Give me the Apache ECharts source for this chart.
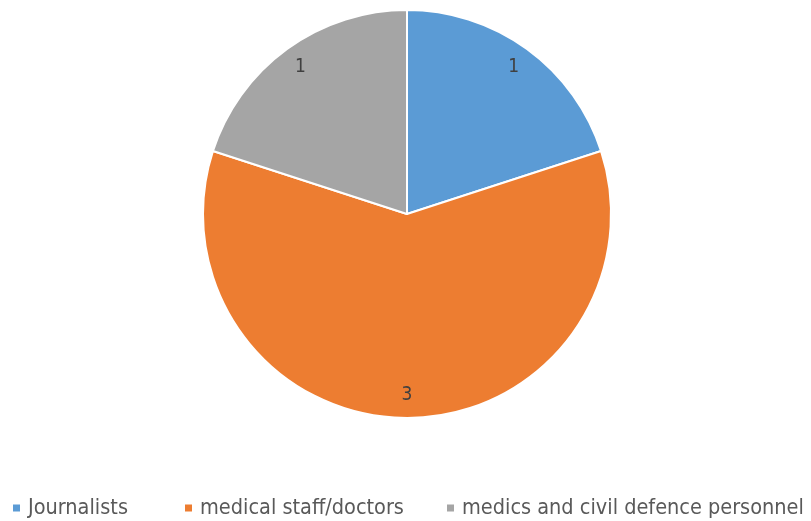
<!DOCTYPE html>
<html><head><meta charset="utf-8">
<script src="https://cdn.jsdelivr.net/npm/echarts@6/dist/echarts.min.js"></script>
<style>html,body{margin:0;padding:0;background:#fff}#c{width:811px;height:521px}</style>
</head><body><div id="c"></div>
<script>
const categories = ['Journalists', 'medical staff/doctors', 'medics and civil defence personnel'];
const values = [1, 3, 1];
const colors = ['#5B9BD5', '#ED7D31', '#A5A5A5'];

const data = categories.map((name, i) => ({ name: name, value: values[i], itemStyle: { color: colors[i] } }));
const chart = echarts.init(document.getElementById('c'), null, { renderer: 'canvas' });
const font = "'Liberation Sans Narrow', 'DejaVu Sans Condensed', 'Liberation Sans', sans-serif";
const legendLefts = [6, 178, 440];
chart.setOption({
  animation: false,
  color: colors,
  legend: categories.map((name, i) => ({
    top: 492,
    left: legendLefts[i],
    icon: 'rect',
    itemWidth: 9,
    itemHeight: 9,
    textStyle: { fontFamily: font, fontSize: 21.5, color: '#595959', padding: [0, 0, 0, 2] },
    data: [name]
  })),
  series: [
    {
      type: 'pie',
      center: [407, 214],
      radius: [0, 204],
      startAngle: 90,
      clockwise: true,
      silent: true,
      itemStyle: { borderColor: '#fff', borderWidth: 2 },
      label: { show: false },
      labelLine: { show: false },
      data: data
    },
    {
      type: 'pie',
      center: [407, 214],
      radius: [152, 205],
      startAngle: 90,
      clockwise: true,
      silent: true,
      legendHoverLink: false,
      itemStyle: { color: 'rgba(0,0,0,0)', borderWidth: 0 },
      label: { show: true, position: 'inside', formatter: '{c}', fontFamily: font, fontSize: 19, color: '#404040' },
      labelLine: { show: false },
      data: categories.map((name, i) => ({ name: name + ' ', value: values[i] }))
    }
  ]
});
</script></body></html>
